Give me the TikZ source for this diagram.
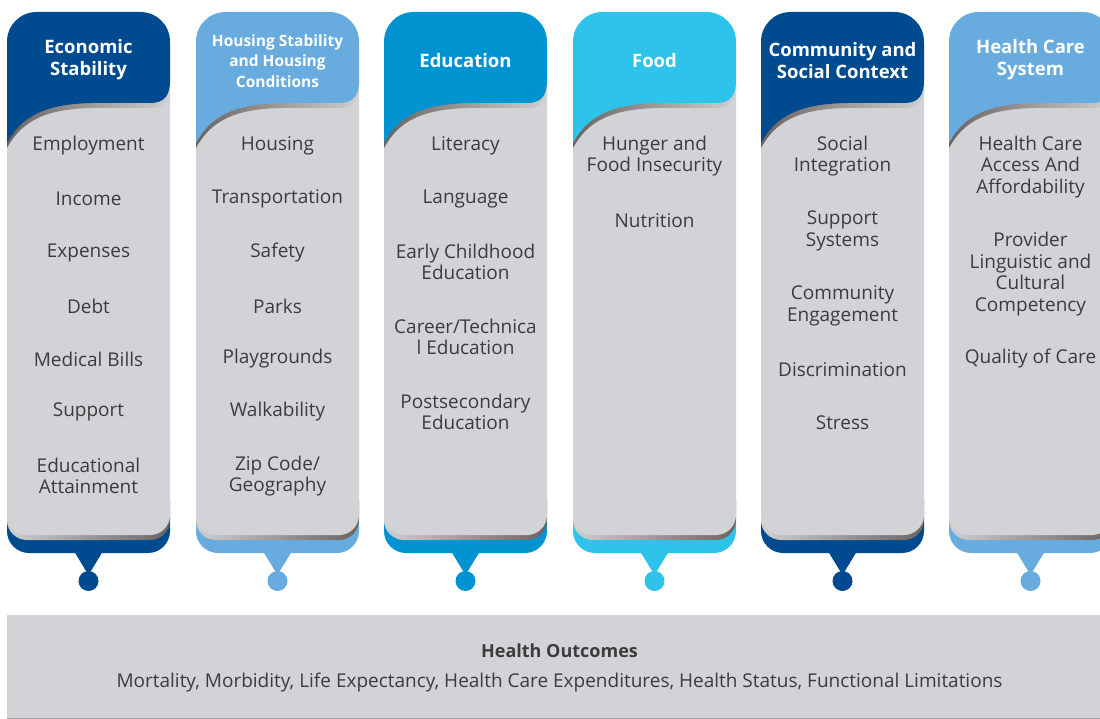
\documentclass[tikz,border=0pt]{standalone}
\usepackage{fontspec}
\setmainfont{Open Sans}

\definecolor{navy}{HTML}{004A8F}
\definecolor{skyblue}{HTML}{68ACDF}
\definecolor{edublue}{HTML}{0093D2}
\definecolor{foodcyan}{HTML}{2EC3EA}
\definecolor{panelgrey}{HTML}{D1D3D7}
\definecolor{shadowdark}{HTML}{6B6360}
\definecolor{shadowlight}{HTML}{CFCFD0}
\definecolor{itemtext}{HTML}{3C3C3C}

\begin{document}
\begin{tikzpicture}[x=1pt,y=-1pt,
    item/.style={text=itemtext,align=center,font=\fontsize{19}{21.5}\selectfont},
    head/.style={text=white,align=center,font=\bfseries\fontsize{18.5}{22}\selectfont}]
    \useasboundingbox (0,0) rectangle (1100,719);
    \clip (0,0) rectangle (1100,719);
    % columns
    \foreach \L/\col in {7/navy,196/skyblue,384/edublue,573/foodcyan,761/navy,949/skyblue}{
        \pgfmathsetmacro\R{\L+163}
        \pgfmathsetmacro\M{\L+81.5}
        \fill[\col,rounded corners=22pt] (\L,500) rectangle (\R,553);
        \shade[left color=shadowlight,right color=shadowdark,rounded corners=20pt] (\L,480) rectangle (\R,540);
        \fill[panelgrey,rounded corners=20pt] (\L,60) rectangle (\R,535);
        \shade[shift={(0,5)},left color=shadowdark,right color=shadowlight] (\L,143) -- (\L,42)
            .. controls (\L,25) and (\L+13,12) .. (\L+30,12) -- (\R-30,12)
            .. controls (\R-13,12) and (\R,25) .. (\R,42) -- (\R,80)
            .. controls (\R,95) and (\R-5,103) .. (\R-20,103) -- (\L+85,103)
            .. controls (\L+40,104) and (\L+15,115) .. (\L,143) -- cycle;
        \fill[\col] (\L,143) -- (\L,42)
            .. controls (\L,25) and (\L+13,12) .. (\L+30,12) -- (\R-30,12)
            .. controls (\R-13,12) and (\R,25) .. (\R,42) -- (\R,80)
            .. controls (\R,95) and (\R-5,103) .. (\R-20,103) -- (\L+85,103)
            .. controls (\L+40,104) and (\L+15,115) .. (\L,143) -- cycle;
        \fill[\col] (\M-14,552) -- (\M+14,552) -- (\M,575) -- cycle;
        \fill[\col] (\M,581) circle (10pt);
    }

    % headers
    \node[head] (econ) at (88.5,60) {Economic\\Stability};
    \node[head,font=\bfseries\fontsize{15.5}{20.5}\selectfont] (housing) at (277.5,61) {Housing Stability\\and Housing\\Conditions};
    \node[head] (edu) at (465.5,61) {Education};
    \node[head] (food) at (654.5,61) {Food};
    \node[head] (community) at (842.5,61) {Community and\\Social Context};
    \node[head] (care) at (1030.5,60) {Health Care\\System};

    % economic stability
    \node[item] (employment) at (88.5,146) {Employment};
    \node[item] (income) at (88.5,199) {Income};
    \node[item] (expenses) at (88.5,253) {Expenses};
    \node[item] (debt) at (88.5,306) {Debt};
    \node[item] (bills) at (88.5,359) {Medical Bills};
    \node[item] (support) at (88.5,412) {Support};
    \node[item] (attainment) at (88.5,476) {Educational\\Attainment};

    % housing
    \node[item] (house) at (277.5,146) {Housing};
    \node[item] (transport) at (277.5,199) {Transportation};
    \node[item] (safety) at (277.5,253) {Safety};
    \node[item] (parks) at (277.5,306) {Parks};
    \node[item] (playgrounds) at (277.5,359) {Playgrounds};
    \node[item] (walk) at (277.5,412) {Walkability};
    \node[item] (zip) at (277.5,476) {Zip Code/\\Geography};

    % education
    \node[item] (literacy) at (465.5,146) {Literacy};
    \node[item] (language) at (465.5,199) {Language};
    \node[item] (early) at (465.5,262) {Early Childhood\\Education};
    \node[item] (career) at (465.5,337) {Career/Technica\\l Education};
    \node[item] (postsec) at (465.5,412) {Postsecondary\\Education};

    % food
    \node[item] (hunger) at (654.5,156) {Hunger and\\Food Insecurity};
    \node[item] (nutrition) at (654.5,221) {Nutrition};

    % community
    \node[item] (social) at (842.5,156) {Social\\Integration};
    \node[item] (systems) at (842.5,231) {Support\\Systems};
    \node[item] (engage) at (842.5,306) {Community\\Engagement};
    \node[item] (discrim) at (842.5,370) {Discrimination};
    \node[item] (stress) at (842.5,423) {Stress};

    % health care
    \node[item] (access) at (1030.5,167) {Health Care\\Access And\\Affordability};
    \node[item] (provider) at (1030.5,274) {Provider\\Linguistic and\\Cultural\\Competency};
    \node[item] (quality) at (1030.5,359) {Quality of Care};

    % outcomes
    \fill[panelgrey] (7,615) rectangle (1112,718);
    \draw[shadowdark!60,line width=1pt] (7,718) -- (1112,718);
    \node[item,font=\bfseries\fontsize{18}{21.5}\selectfont] (outcomes) at (559.5,651) {Health Outcomes};
    \node[item] (measures) at (559.5,683) {Mortality, Morbidity, Life Expectancy, Health Care Expenditures, Health Status, Functional Limitations};
\end{tikzpicture}
\end{document}
